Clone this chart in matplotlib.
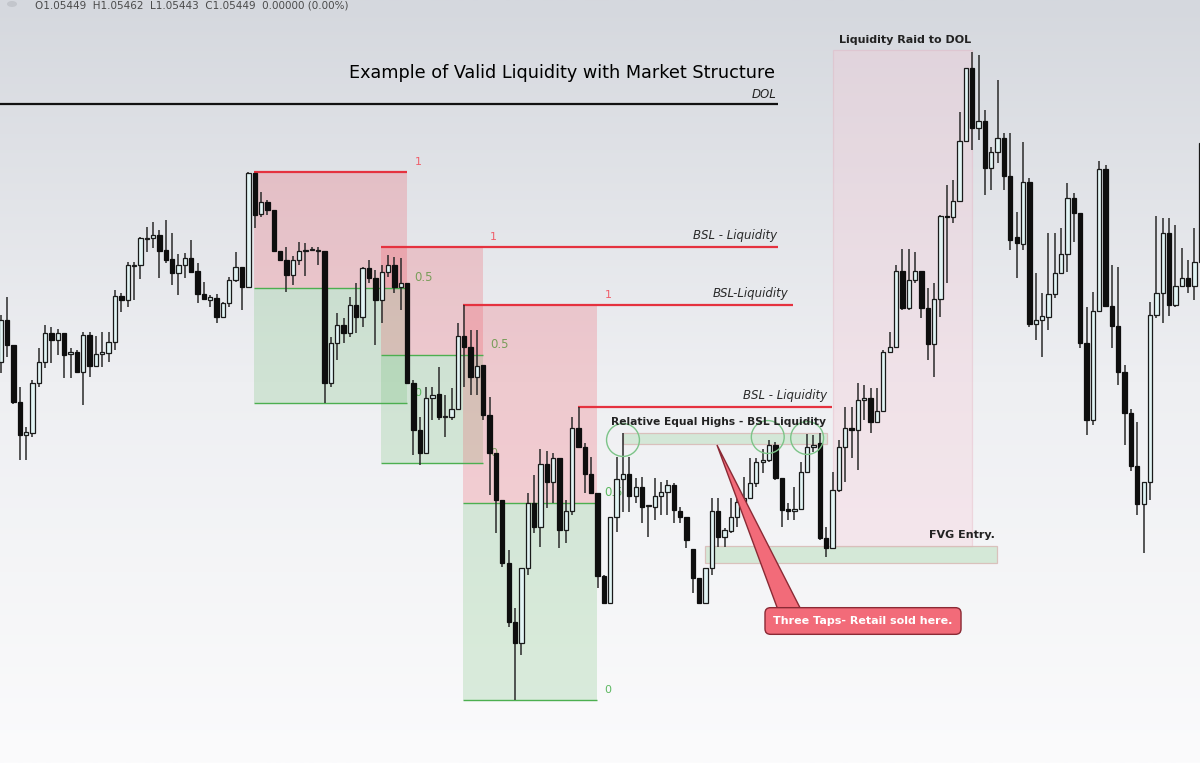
import matplotlib
matplotlib.use('Agg')
import matplotlib.pyplot as plt
from matplotlib.patches import Rectangle, Polygon, Ellipse
from matplotlib.colors import LinearSegmentedColormap
import numpy as np

# EURUSD-style candles, prices in points (chart units)
OPEN = [401, 443, 418, 361, 328, 330, 380, 401, 430, 423,
        430, 409, 411, 391, 428, 397, 409, 410, 421, 467,
        463, 497, 498, 524, 525, 528, 513, 504, 490, 498,
        505, 492, 469, 463, 465, 446, 460, 483, 496, 476,
        590, 549, 561, 553, 512, 503, 488, 503, 512, 513,
        512, 512, 380, 420, 438, 430, 458, 446, 495, 485,
        463, 491, 498, 476, 480, 380, 333, 310, 365, 369,
        346, 346, 354, 427, 416, 386, 398, 348, 310, 263,
        200, 141, 120, 195, 260, 236, 299, 281, 305, 233,
        252, 335, 316, 289, 270, 187, 160, 246, 284, 289,
        267, 276, 257, 256, 267, 271, 278, 252, 246, 214,
        185, 160, 195, 252, 226, 232, 246, 261, 265, 280,
        301, 303, 318, 285, 254, 252, 254, 291, 316, 320,
        225, 215, 273, 316, 335, 333, 363, 365, 341, 352,
        411, 416, 492, 455, 483, 492, 455, 419, 464, 547,
        546, 562, 622, 695, 635, 642, 595, 611, 625, 587,
        526, 519, 581, 439, 443, 446, 469, 490, 509, 565,
        550, 420, 343, 452, 594, 457, 437, 391, 350, 297,
        259, 281, 448, 470, 530, 458, 477, 485, 477, 501]
HIGH = [448, 466, 418, 376, 336, 383, 415, 438, 436, 434,
        430, 415, 413, 431, 431, 427, 431, 431, 473, 470,
        501, 501, 526, 536, 541, 533, 543, 530, 509, 510,
        523, 500, 481, 468, 469, 461, 486, 511, 496, 591,
        590, 571, 563, 553, 512, 516, 507, 521, 520, 516,
        516, 512, 426, 450, 445, 466, 480, 496, 503, 493,
        498, 508, 506, 505, 480, 383, 346, 376, 376, 396,
        368, 375, 440, 458, 433, 433, 398, 366, 310, 263,
        213, 155, 195, 270, 288, 314, 312, 310, 305, 263,
        346, 356, 320, 306, 270, 188, 246, 306, 330, 306,
        285, 286, 258, 285, 281, 283, 280, 256, 246, 214,
        185, 195, 265, 265, 235, 265, 265, 286, 305, 305,
        314, 323, 321, 285, 260, 276, 301, 329, 328, 330,
        236, 291, 323, 356, 356, 380, 378, 375, 375, 413,
        431, 498, 514, 514, 511, 492, 475, 480, 548, 578,
        583, 651, 695, 711, 708, 653, 616, 683, 630, 630,
        551, 621, 585, 490, 470, 530, 530, 535, 580, 570,
        550, 456, 471, 602, 598, 498, 496, 398, 354, 341,
        281, 461, 547, 545, 545, 538, 515, 503, 535, 623]
LOW = [390, 406, 359, 303, 303, 326, 376, 395, 400, 408,
       385, 385, 390, 358, 386, 396, 396, 401, 413, 451,
       456, 463, 484, 511, 515, 485, 500, 478, 468, 485,
       490, 460, 463, 456, 440, 445, 456, 481, 453, 475,
       535, 546, 548, 511, 502, 471, 478, 498, 487, 512,
       498, 360, 376, 403, 420, 426, 430, 436, 480, 418,
       440, 486, 470, 453, 380, 308, 298, 310, 343, 343,
       326, 343, 353, 376, 368, 368, 343, 268, 230, 196,
       136, 63, 108, 188, 230, 216, 255, 260, 215, 220,
       248, 316, 270, 270, 175, 160, 160, 231, 251, 251,
       260, 240, 226, 243, 248, 248, 240, 240, 215, 170,
       159, 160, 188, 216, 216, 230, 236, 255, 265, 276,
       290, 301, 283, 236, 243, 243, 253, 290, 311, 223,
       206, 215, 271, 281, 305, 293, 343, 330, 340, 351,
       410, 415, 453, 453, 480, 445, 403, 386, 446, 480,
       540, 561, 621, 613, 623, 568, 573, 600, 573, 513,
       485, 513, 436, 423, 406, 433, 465, 490, 491, 521,
       415, 328, 338, 451, 456, 415, 378, 318, 292, 248,
       210, 263, 445, 440, 447, 456, 476, 470, 463, 501]
CLOSE = [443, 418, 361, 328, 331, 380, 401, 430, 423, 430,
         408, 411, 391, 428, 397, 409, 411, 421, 467, 463,
         498, 498, 525, 525, 528, 512, 503, 490, 498, 505,
         491, 469, 464, 466, 446, 460, 483, 496, 476, 590,
         548, 561, 553, 512, 503, 488, 503, 512, 513, 514,
         513, 380, 420, 438, 430, 458, 446, 495, 485, 463,
         491, 498, 476, 480, 380, 333, 310, 365, 368, 346,
         347, 354, 427, 416, 386, 397, 348, 310, 263, 200,
         141, 120, 195, 260, 236, 299, 281, 305, 233, 252,
         335, 316, 289, 270, 187, 160, 246, 284, 289, 267,
         276, 256, 258, 267, 271, 278, 253, 246, 223, 185,
         160, 195, 252, 226, 233, 246, 261, 265, 280, 301,
         303, 318, 285, 253, 252, 254, 291, 316, 318, 225,
         215, 273, 316, 335, 333, 363, 365, 341, 352, 411,
         416, 492, 455, 483, 492, 455, 419, 464, 547, 546,
         562, 622, 695, 635, 642, 595, 611, 625, 587, 523,
         520, 581, 439, 443, 447, 469, 490, 509, 565, 550,
         420, 343, 452, 594, 457, 437, 391, 350, 297, 259,
         281, 448, 470, 530, 458, 477, 485, 477, 501, 620]

# fib retracement tools (candle index span, level 1 / level 0 prices)
FIB_START = [39.9, 59.9, 72.8]
FIB_END = [64.0, 75.9, 93.9]
FIB_ONE = [591, 516, 458]
FIB_ZERO = [360, 300, 63]
FIB_TOPLINE_END = [64.0, 122.4, 124.8]

DOL_LEVEL = 659
BSL_LEVEL = 356
BSL_SPAN = (90.9, 130.9)
BSL_LABELS = ["BSL - Liquidity", "BSL-Liquidity", "BSL - Liquidity"]
BSL_LABEL_POS = [(122.3, 528), (124.1, 469), (130.1, 367)]

EQH_ZONE = (98.0, 130.1, 319, 330)
EQH_TAPS_X = [98.0, 120.8, 127.0]
EQH_TAPS_Y = [323, 326, 325]
FVG_ZONE = (110.9, 156.9, 200, 217)
RAID_ZONE = (131.1, 153.0, 216, 713)

fig = plt.figure(figsize=(12, 7.63), dpi=100)
ax = fig.add_axes([0, 0, 1, 1])
ax.set_xlim(-0.11, 188.87)
ax.set_ylim(0, 763)
ax.axis('off')

# background gradient
bg = LinearSegmentedColormap.from_list('bg', ['#fbfbfc', '#eeeff2', '#d5d8de'])
grad = np.linspace(0, 1, 256).reshape(-1, 1)
ax.imshow(grad, cmap=bg, aspect='auto', extent=[-0.11, 188.87, 0, 763],
          origin='lower', zorder=0)

# fib boxes
lvl_green = '#5cb860'
for k in range(3):
    x0, x1 = FIB_START[k], FIB_END[k]
    top, bot = FIB_ONE[k], FIB_ZERO[k]
    mid = (top + bot) / 2
    ax.add_patch(Rectangle((x0, mid), x1 - x0, top - mid, fc='#f23645',
                           alpha=0.2, lw=0, zorder=1))
    ax.add_patch(Rectangle((x0, bot), x1 - x0, mid - bot, fc='#4caf50',
                           alpha=0.18, lw=0, zorder=1))
    ax.text(x1 + 1.2, top + 10, "1", color='#ef5f6b', fontsize=8,
            va='center', ha='left', zorder=1)
    ax.text(x1 + 1.2, mid + 10, "0.5", color=lvl_green, fontsize=8.5,
            va='center', ha='left', zorder=1)
    ax.text(x1 + 1.2, bot + 10, "0", color=lvl_green, fontsize=8,
            va='center', ha='left', zorder=1)
    ax.hlines([mid, bot], x0, x1, color='#4caf50', lw=1, zorder=2)
    ax.hlines(top, x0, FIB_TOPLINE_END[k], color='#e5323f', lw=1.6, zorder=2)

ax.hlines(BSL_LEVEL, BSL_SPAN[0], BSL_SPAN[1], color='#e5323f', lw=1.6, zorder=2)
ax.hlines(DOL_LEVEL, -0.11, 122.4, color='#111111', lw=1.6, zorder=2)

# zones
ax.add_patch(Rectangle((RAID_ZONE[0], RAID_ZONE[2]), RAID_ZONE[1] - RAID_ZONE[0],
                       RAID_ZONE[3] - RAID_ZONE[2], fc='#f6c6d4', alpha=0.3,
                       ec='#e3a3b3', lw=0.9, zorder=1))
ax.add_patch(Rectangle((EQH_ZONE[0], EQH_ZONE[2]), EQH_ZONE[1] - EQH_ZONE[0],
                       EQH_ZONE[3] - EQH_ZONE[2], fc='#cfe6d2', alpha=0.85,
                       ec='#d8b9b5', lw=0.9, zorder=1))
ax.add_patch(Rectangle((FVG_ZONE[0], FVG_ZONE[2]), FVG_ZONE[1] - FVG_ZONE[0],
                       FVG_ZONE[3] - FVG_ZONE[2], fc='#cfe6d2', alpha=0.85,
                       ec='#d8b9b5', lw=0.9, zorder=1))

# candles
x = np.arange(len(OPEN))
o, h, l, c = (np.array(v, dtype=float) for v in (OPEN, HIGH, LOW, CLOSE))
up = c >= o
ax.vlines(x, l, h, color='#2a2a2a', lw=1.1, zorder=3)
ax.bar(x[up], (c - o)[up], bottom=o[up], width=0.68, color='#e2f4f4',
       edgecolor='#1a1a1a', lw=0.9, zorder=4)
ax.bar(x[~up], (o - c)[~up], bottom=c[~up], width=0.68, color='#0e0e0e',
       edgecolor='#0e0e0e', lw=0.9, zorder=4)

# equal-high taps
ax.scatter(EQH_TAPS_X, EQH_TAPS_Y, s=560, facecolors='none',
           edgecolors='#7cc488', linewidths=1, zorder=5)

# texts
ax.text(121.9, 690, "Example of Valid Liquidity with Market Structure",
        ha='right', va='center', fontsize=12.7, color='#000000', zorder=6)
ax.text(122.1, 669, "DOL", ha='right', va='center', fontsize=8.5,
        style='italic', color='#222222', zorder=6)
for lab, (lx, ly) in zip(BSL_LABELS, BSL_LABEL_POS):
    ax.text(lx, ly, lab, ha='right', va='center', fontsize=8.5,
            style='italic', color='#2a2a2a', zorder=6)
ax.text(130.0, 341, "Relative Equal Highs - BSL Liquidity", ha='right',
        va='center', fontsize=7.7, fontweight='bold', color='#222222', zorder=6)
ax.text(142.4, 723, "Liquidity Raid to DOL", ha='center', va='center',
        fontsize=8, fontweight='bold', color='#222222', zorder=6)
ax.text(156.6, 228, "FVG Entry.", ha='right', va='center', fontsize=8,
        fontweight='bold', color='#222222', zorder=6)

# callout
ax.add_patch(Polygon([(112.8, 318), (122.3, 155), (125.9, 155)], closed=True,
                     fc='#f26b79', ec='#8b2a35', lw=1, zorder=6))
ax.text(135.8, 142, "Three Taps- Retail sold here.", ha='center', va='center',
        fontsize=8, fontweight='bold', color='white', zorder=7,
        bbox=dict(boxstyle='round,pad=0.75,rounding_size=0.5', fc='#f26b79',
                  ec='#8b2a35', lw=1))

# header
fig.text(35 / 1200, 1 - 6 / 763,
         "O1.05449  H1.05462  L1.05443  C1.05449  0.00000 (0.00%)",
         fontsize=7.5, color='#4a4a4a', va='center', ha='left')
fig.patches.append(Ellipse((12 / 1200, 1 - 4 / 763), 10 / 1200, 6 / 763,
                           transform=fig.transFigure, fc='#c3c6cc', ec='none'))

fig.savefig('out.png', dpi=100)
